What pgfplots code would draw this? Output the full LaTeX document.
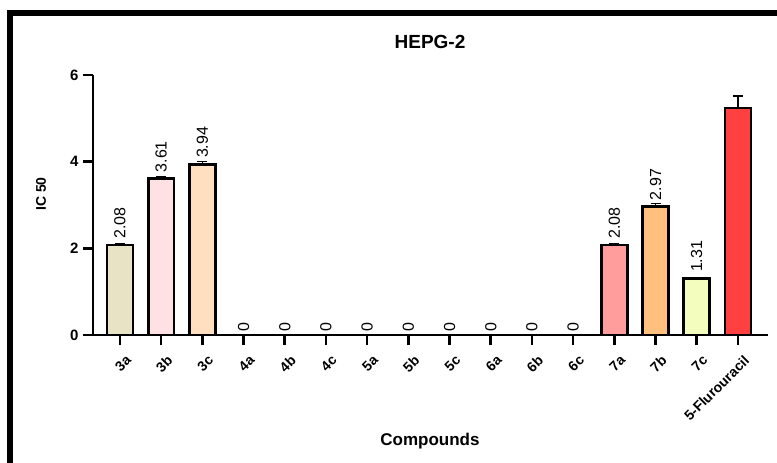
\documentclass[border=0pt]{standalone}
\usepackage{pgfplots}
\pgfplotsset{compat=1.18}
\usepackage{fontspec}
\setmainfont{Liberation Sans}
\definecolor{c3a}{HTML}{E8E3C5}
\definecolor{c3b}{HTML}{FFE0E3}
\definecolor{c3c}{HTML}{FFDFC0}
\definecolor{c7a}{HTML}{FF9C9C}
\definecolor{c7b}{HTML}{FFC07E}
\definecolor{c7c}{HTML}{F2FDBE}
\definecolor{cfu}{HTML}{FF4040}
\begin{document}
\begin{tikzpicture}
\useasboundingbox (0,0) rectangle (777pt,-463pt);
\begin{axis}[
  scale only axis,
  width=675pt, height=260pt,
  anchor=south west, at={(93pt,-335pt)},
  xmin=-0.655, xmax=15.73, ymin=0, ymax=6,
  axis x line*=bottom, axis y line*=left,
  axis line style={line width=2.6pt},
  every tick/.style={line width=2.6pt, black},
  major tick length=10pt,
  tick align=outside,
  ytick={0,2,4,6},
  xtick={0,...,15},
  xticklabels={3a,3b,3c,4a,4b,4c,5a,5b,5c,6a,6b,6c,7a,7b,7c,5-Flurouracil},
  /pgf/number format/assume math mode=true,
  yticklabel style={font=\bfseries\fontsize{15}{17}\selectfont, xshift=-1pt},
  xticklabel style={font=\bfseries\fontsize{14}{16}\selectfont, rotate=45, anchor=north east, inner sep=1pt, xshift=-2pt, yshift=-9pt},
  clip=false,
  every node near coord/.append style={rotate=90, anchor=west, font=\fontsize{16}{18}\selectfont, inner xsep=5pt, inner ysep=1pt, black},
  bar width=0.63,
]
\pgfplotsset{mybar/.style={ybar, bar shift=0pt, draw=black, line width=2.6pt,
  /pgfplots/error bars/y dir=plus, /pgfplots/error bars/y explicit,
  /pgfplots/error bars/error bar style={line width=1.4pt, black},
  /pgfplots/error bars/error mark options={rotate=90, mark size=5pt, line width=1.4pt, black}}}
\addplot[mybar, fill=c3a, nodes near coords={\pgfmathprintnumber[fixed,precision=2,fixed zerofill]{\pgfplotspointmeta}}] coordinates {(0,2.08) +- (0,0.03)};
\addplot[mybar, fill=c3b, nodes near coords={\pgfmathprintnumber[fixed,precision=2,fixed zerofill]{\pgfplotspointmeta}}] coordinates {(1,3.61) +- (0,0.05)};
\addplot[mybar, fill=c3c, nodes near coords={\pgfmathprintnumber[fixed,precision=2,fixed zerofill]{\pgfplotspointmeta}}] coordinates {(2,3.94) +- (0,0.06)};
\addplot[ybar, bar shift=0pt, draw=none, fill=none, nodes near coords={0}, every node near coord/.append style={inner xsep=3pt}] coordinates {(3,0) (4,0) (5,0) (6,0) (7,0) (8,0) (9,0) (10,0) (11,0)};
\addplot[mybar, fill=c7a, nodes near coords={\pgfmathprintnumber[fixed,precision=2,fixed zerofill]{\pgfplotspointmeta}}] coordinates {(12,2.08) +- (0,0.03)};
\addplot[mybar, fill=c7b, nodes near coords={\pgfmathprintnumber[fixed,precision=2,fixed zerofill]{\pgfplotspointmeta}}] coordinates {(13,2.97) +- (0,0.07)};
\addplot[mybar, fill=c7c, nodes near coords={\pgfmathprintnumber[fixed,precision=2,fixed zerofill]{\pgfplotspointmeta}}] coordinates {(14,1.31) +- (0,0.02)};
\addplot[mybar, fill=cfu] coordinates {(15,5.24) +- (0,0.28)};
\end{axis}
\node[font=\bfseries\fontsize{19}{21}\selectfont] at (430pt,-41.5pt) {HEPG-2};
\node[font=\bfseries\fontsize{17}{19}\selectfont] at (430pt,-441pt) {Compounds};
\node[font=\bfseries\fontsize{14}{16}\selectfont, rotate=90] at (41pt,-194pt) {IC 50};
\draw[line width=6pt] (10pt,-470pt) -- (10pt,-13pt) -- (790pt,-13pt);
\end{tikzpicture}
\end{document}
